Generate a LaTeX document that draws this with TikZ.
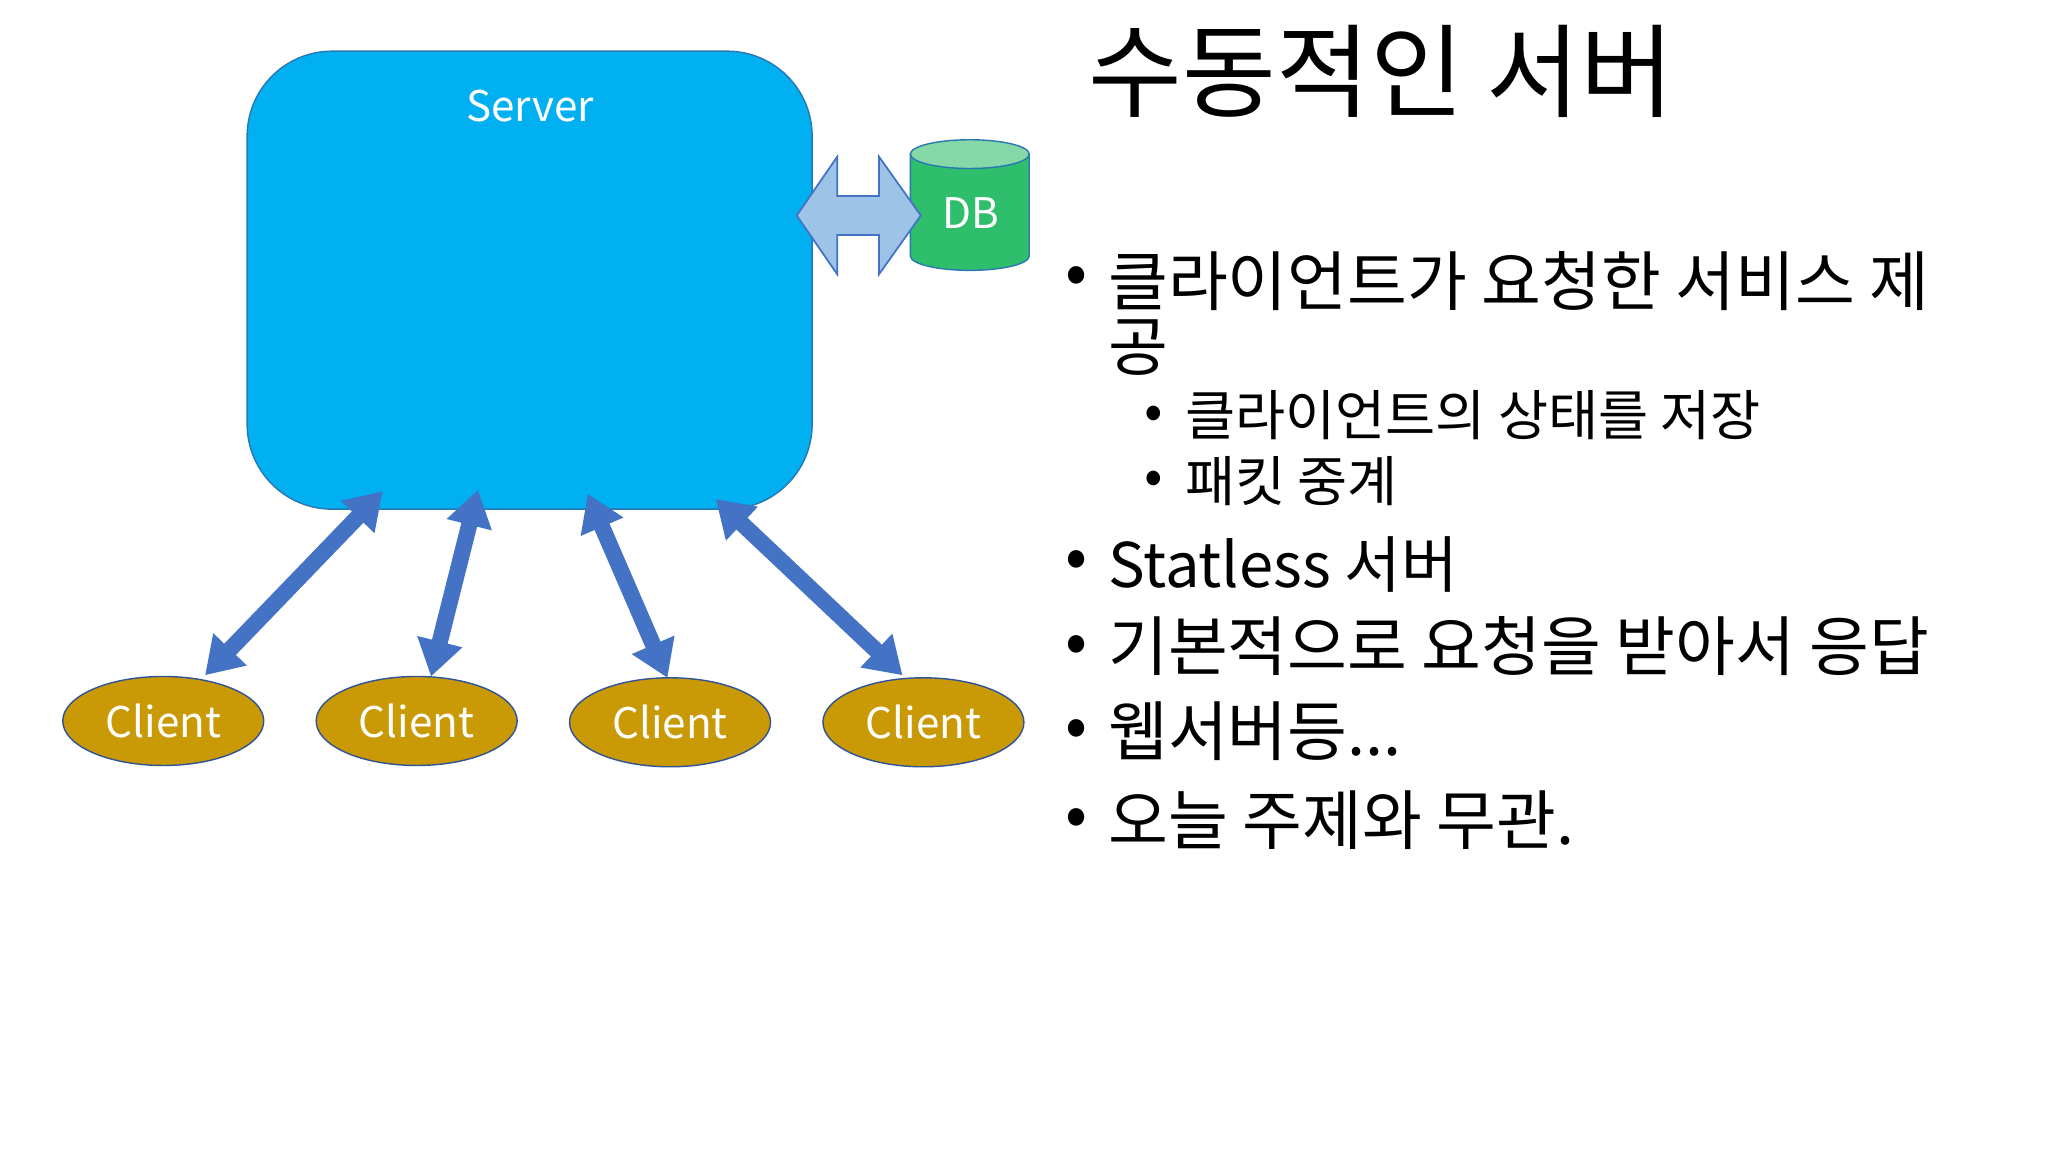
\documentclass[tikz,border=0pt]{standalone}
\usepackage{fontspec}
\setmainfont{Noto Sans CJK KR}
\usetikzlibrary{arrows.meta,shapes.geometric}
\definecolor{srv}{RGB}{0,176,240}
\definecolor{srvb}{RGB}{40,120,180}
\definecolor{dbg}{RGB}{46,190,108}
\definecolor{dbt}{RGB}{134,216,168}
\definecolor{cli}{RGB}{201,154,6}
\definecolor{cliB}{RGB}{47,84,150}
\definecolor{arr}{RGB}{68,114,196}
\definecolor{larr}{RGB}{157,195,230}
\tikzset{
  client/.style={ellipse,draw=cliB,fill=cli,minimum width=2.01cm,minimum height=0.89cm,text=white,font=\fontsize{12pt}{14pt}\selectfont,inner sep=0pt},
  biarrow/.style={draw=arr,line width=4.6pt,{Triangle[length=0.36cm,width=0.44cm]}-{Triangle[length=0.36cm,width=0.44cm]}},
  lvl1/.style={anchor=west,font=\fontsize{18.5pt}{24pt}\selectfont,inner sep=0pt},
  lvl2/.style={anchor=west,font=\fontsize{15.5pt}{20pt}\selectfont,inner sep=0pt},
}
\begin{document}
\begin{tikzpicture}[x=0.01306cm,y=-0.01306cm]
\useasboundingbox[fill=white] (0,0) rectangle (1568,882);
% server
\node[draw=srvb,fill=srv,rounded corners=0.85cm,minimum width=5.65cm,minimum height=4.58cm,inner sep=0pt] (server) at (405.5,214.5) {};
\node[text=white,font=\fontsize{12pt}{14pt}\selectfont] (stxt) at (406,81) {Server};
% DB
\fill[dbg,draw=srvb,line width=0.4pt] (697,118) -- (697,196) arc[start angle=180,end angle=0,x radius=45.5,y radius=11] -- (788,118) -- cycle;
\filldraw[fill=dbt,draw=srvb,line width=0.4pt] (742.5,118) ellipse[x radius=45.5,y radius=11];
\node[text=white,font=\fontsize{12pt}{14pt}\selectfont] (db) at (743,163) {DB};
% server-db double arrow
\filldraw[fill=larr,draw=arr,line width=0.5pt] (610,165) -- (641,120) -- (641,150) -- (673,150) -- (673,120) -- (705,165) -- (673,210) -- (673,180) -- (641,180) -- (641,210) -- cycle;
% clients
\node[client] (c1) at (125,552) {Client};
\node[client] (c2) at (319,552) {Client};
\node[client] (c3) at (513,553) {Client};
\node[client] (c4) at (707,553) {Client};
\coordinate (s1) at (293,376);
\coordinate (s2) at (366,375);
\coordinate (s3) at (450,378);
\coordinate (s4) at (548,382);
\coordinate (e1) at (157,517);
\coordinate (e2) at (330,518);
\coordinate (e3) at (511,519);
\coordinate (e4) at (691,517);
\draw[biarrow] (s1) -- (e1);
\draw[biarrow] (s2) -- (e2);
\draw[biarrow] (s3) -- (e3);
\draw[biarrow] (s4) -- (e4);
% text
\node[anchor=west,font=\fontsize{29pt}{34pt}\selectfont,inner sep=0pt] (title) at (833,55) {수동적인 서버};
\node[lvl1] (b1) at (815,215) {•};
\node[lvl1] (t1) at (848,215) {클라이언트가 요청한 서비스 제};
\node[lvl1] (t1b) at (848,266) {공};
\node[lvl2] (b2) at (876,320) {•};
\node[lvl2] (t2) at (907,318) {클라이언트의 상태를 저장};
\node[lvl2] (b3) at (876,370) {•};
\node[lvl2] (t3) at (907,368) {패킷 중계};
\node[lvl1] (b4) at (815,432) {•};
\node[lvl1] (t4) at (848,432) {\fontsize{17.5pt}{22pt}\selectfont Statless 서버};
\node[lvl1] (b5) at (815,497) {•};
\node[lvl1] (t5) at (848,495) {기본적으로 요청을 받아서 응답};
\node[lvl1] (b6) at (815,562) {•};
\node[lvl1] (t6) at (848,560) {웹서버등...};
\node[lvl1] (b7) at (815,630) {•};
\node[lvl1] (t7) at (848,628) {오늘 주제와 무관.};
\end{tikzpicture}
\end{document}
